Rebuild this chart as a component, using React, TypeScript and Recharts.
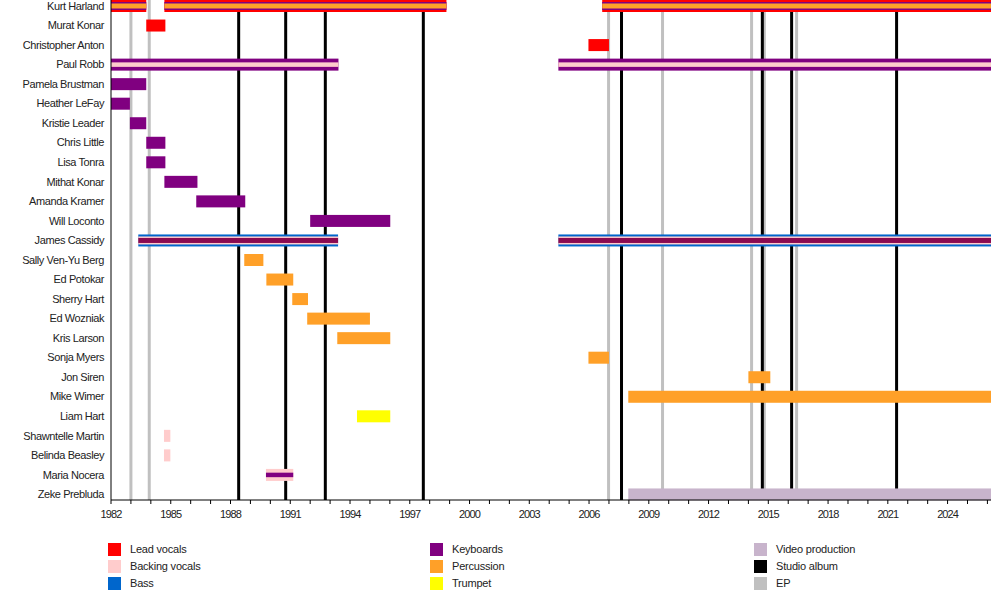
import React from 'react';
import { ComposedChart, Bar, XAxis, YAxis, ReferenceLine } from 'recharts';

const members = [
  'Kurt Harland', 'Murat Konar', 'Christopher Anton', 'Paul Robb', 'Pamela Brustman',
  'Heather LeFay', 'Kristie Leader', 'Chris Little', 'Lisa Tonra', 'Mithat Konar',
  'Amanda Kramer', 'Will Loconto', 'James Cassidy', 'Sally Ven-Yu Berg', 'Ed Potokar',
  'Sherry Hart', 'Ed Wozniak', 'Kris Larson', 'Sonja Myers', 'Jon Siren',
  'Mike Wimer', 'Liam Hart', 'Shawntelle Martin', 'Belinda Beasley', 'Maria Nocera',
  'Zeke Prebluda',
];

const END = 2026.18;

const firstStint = [
  [1982, 1983.77], [1983.77, 1984.73], [2005.97, 2007.0], [1982, 1993.42], [1982, 1983.77],
  [1982, 1982.95], [1982.95, 1983.77], [1983.77, 1984.73], [1983.77, 1984.73], [1984.68, 1986.34],
  [1986.28, 1988.74], [1992.0, 1996.02], [1983.37, 1993.4], [1988.69, 1989.65], [1989.8, 1991.15],
  [1991.1, 1991.89], [1991.85, 1995.0], [1993.36, 1996.02], [2005.97, 2007.0], [2014.0, 2015.1],
  [2007.97, END], [1994.35, 1996.02], [1984.66, 1984.98], [1984.66, 1984.98], [1989.78, 1991.15],
  [2007.97, END],
];

const secondStint = [
  [1984.68, 1998.84], null, null, [2004.46, END], null,
  null, null, null, null, null,
  null, null, [2004.46, END], null, null,
  null, null, null, null, null,
  null, null, null, null, null,
  null,
];

const thirdStint = [
  [2006.66, END], null, null, null, null,
  null, null, null, null, null,
  null, null, null, null, null,
  null, null, null, null, null,
  null, null, null, null, null,
  null,
];

// stripes, outer to inner
const memberRoles = [
  ['lead', 'keys', 'perc'], ['lead'], ['lead'], ['keys', 'backing'], ['keys'],
  ['keys'], ['keys'], ['keys'], ['keys'], ['keys'],
  ['keys'], ['keys'], ['bass', 'backing', 'mixed'], ['perc'], ['perc'],
  ['perc'], ['perc'], ['perc'], ['perc'], ['perc'],
  ['perc'], ['trumpet'], ['backing'], ['backing'], ['backing', 'keys'],
  ['video'],
];

const studioAlbums = [1988.41, 1990.77, 1992.76, 1997.68, 2007.63, 2014.7, 2016.17, 2021.44];
const eps = [1983.0, 1983.92, 2006.98, 2009.69, 2014.16, 2014.8, 2016.42];

const yearTicks = [
  1982, 1983, 1984, 1985, 1986, 1987, 1988, 1989, 1990, 1991, 1992, 1993, 1994, 1995, 1996,
  1997, 1998, 1999, 2000, 2001, 2002, 2003, 2004, 2005, 2006, 2007, 2008, 2009, 2010, 2011,
  2012, 2013, 2014, 2015, 2016, 2017, 2018, 2019, 2020, 2021, 2022, 2023, 2024, 2025, 2026,
];

const roleColors: Record<string, string> = {
  lead: '#FF0000',
  backing: '#FFCCCC',
  bass: '#0066CC',
  keys: '#800080',
  perc: '#FFA028',
  trumpet: '#FFFF00',
  video: '#C8B4CC',
  mixed: '#8B0A50',
};

const legendColumns = [
  [['Lead vocals', '#FF0000'], ['Backing vocals', '#FFCCCC'], ['Bass', '#0066CC']],
  [['Keyboards', '#800080'], ['Percussion', '#FFA028'], ['Trumpet', '#FFFF00']],
  [['Video production', '#C8B4CC'], ['Studio album', '#000000'], ['EP', '#C0C0C0']],
];
const legendX = [108, 430, 754];

const FONT = '"Liberation Sans", Arial, sans-serif';

const data = members.map((name, i) => ({
  name,
  s1: firstStint[i],
  s2: secondStint[i],
  s3: thirdStint[i],
  roles: memberRoles[i],
}));

const thickness: Record<number, number[]> = { 1: [12], 2: [12, 4.5], 3: [12, 8, 5] };

const Stripes = (props: any) => {
  const { x, y, width, height, payload, index } = props;
  if (!width || width <= 0) return <g />;
  const roles = (payload && payload.roles) || memberRoles[index] || [];
  const sizes = thickness[roles.length] || [12];
  const cy = y + height / 2;
  return (
    <g>
      {roles.map((r: string, k: number) => (
        <rect key={k} x={x} y={cy - sizes[k] / 2} width={width} height={sizes[k]} fill={roleColors[r]} />
      ))}
    </g>
  );
};

const YearTick = (props: any) => {
  const { x, y, payload } = props;
  if ((payload.value - 1982) % 3 !== 0) return <g />;
  return (
    <text x={x} y={y} dy="0.71em" textAnchor="middle" fontSize={11} fill="#222"
      fontFamily={FONT} letterSpacing={-0.9}>
      {payload.value}
    </text>
  );
};

const NameTick = (props: any) => {
  const { x, y, payload } = props;
  return (
    <text x={x} y={y} dy="0.355em" textAnchor="end" fontSize={11} fill="#222"
      fontFamily={FONT} letterSpacing={-0.4}>
      {payload.value}
    </text>
  );
};

const pad = { top: -4, bottom: -4 };

export default function App() {
  return (
    <div style={{ position: 'absolute', left: 0, top: 0, width: 1000, height: 600, background: '#fff', fontFamily: FONT }}>
      <ComposedChart
        width={1000}
        height={530}
        data={data}
        layout="vertical"
        margin={{ top: 0, right: 9, left: 7, bottom: 0 }}
      >
        <XAxis
          type="number"
          domain={[1982, END]}
          ticks={yearTicks}
          interval={0}
          allowDataOverflow
          tickSize={4}
          tickMargin={6}
          height={30}
          axisLine={{ stroke: '#000' }}
          tickLine={{ stroke: '#000' }}
          tick={<YearTick />}
        />
        <YAxis
          type="category"
          dataKey="name"
          width={104}
          padding={pad}
          tickLine={false}
          tickSize={0}
          tickMargin={7}
          interval={0}
          axisLine={{ stroke: '#000' }}
          tick={<NameTick />}
        />
        <YAxis yAxisId="b" type="category" dataKey="name" hide padding={pad} />
        <YAxis yAxisId="c" type="category" dataKey="name" hide padding={pad} />
        {eps.map((v) => (
          <ReferenceLine key={'ep' + v} x={v} stroke="#C0C0C0" strokeWidth={3} zIndex={100} />
        ))}
        {studioAlbums.map((v) => (
          <ReferenceLine key={'sa' + v} x={v} stroke="#000" strokeWidth={3} zIndex={100} />
        ))}
        <Bar dataKey="s1" barSize={12} shape={<Stripes />} isAnimationActive={false} zIndex={300} />
        <Bar dataKey="s2" yAxisId="b" barSize={12} shape={<Stripes />} isAnimationActive={false} zIndex={300} />
        <Bar dataKey="s3" yAxisId="c" barSize={12} shape={<Stripes />} isAnimationActive={false} zIndex={300} />
      </ComposedChart>
      {legendColumns.map((col, c) =>
        col.map(([label, color], r) => (
          <div key={label} style={{ position: 'absolute', left: legendX[c], top: 543 + r * 17, height: 13, display: 'flex', alignItems: 'center' }}>
            <div style={{ width: 13, height: 13, background: color }} />
            <span style={{ marginLeft: 9, fontSize: 11, color: '#222', lineHeight: '13px', letterSpacing: -0.2 }}>{label}</span>
          </div>
        ))
      )}
    </div>
  );
}
